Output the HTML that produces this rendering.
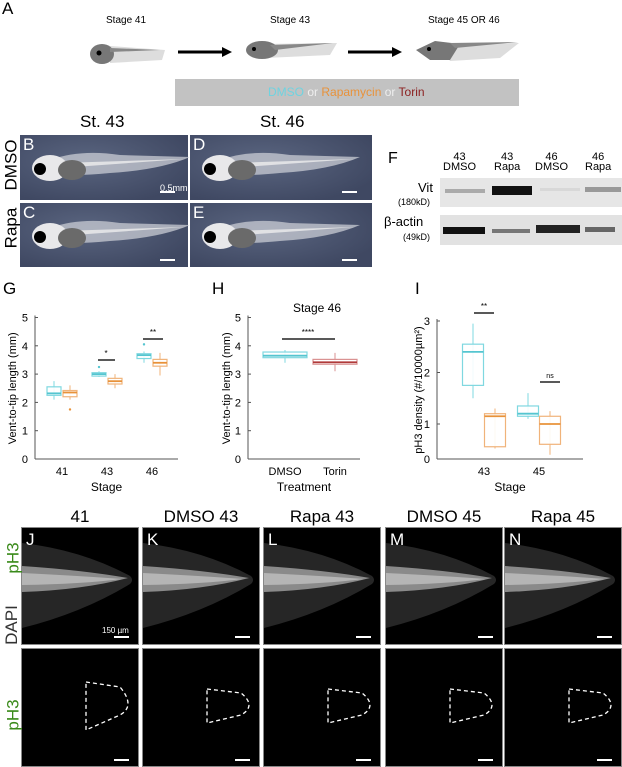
<!DOCTYPE html>
<html><head><meta charset="utf-8"><style>
body{margin:0;background:#fff;font-family:"Liberation Sans",sans-serif;}
#root{position:relative;width:622px;height:767px;overflow:hidden;}
.abs{position:absolute;}
.t{position:absolute;white-space:nowrap;}
.photo{position:absolute;background:radial-gradient(ellipse at 40% 40%,#5a6580,#3f4862 80%);}
.fl{position:absolute;background:#000;border:1px solid #888;box-sizing:border-box;overflow:hidden;}
.sb{position:absolute;height:2px;background:#fff;width:15px;}
</style></head><body><div id="root">

<div class="t" style="left:2px;top:-1px;font-size:17px">A</div>
<div class="t" style="left:106px;top:15px;font-size:10px">Stage 41</div>
<div class="t" style="left:270px;top:15px;font-size:10px">Stage 43</div>
<div class="t" style="left:428px;top:15px;font-size:10px">Stage 45 OR 46</div>
<svg class="abs" style="left:0;top:0" width="622" height="110">
 <g><path d="M110,46 L165,50 L162,60 L110,63 Z" fill="#ddd"/><ellipse cx="102" cy="54" rx="12" ry="10" fill="#777"/><path d="M110,48 L160,50 L110,52Z" fill="#888"/><circle cx="99" cy="53" r="2.5" fill="#000"/></g>
 <path d="M178,52 L225,52" stroke="#000" stroke-width="3"/><path d="M222,47 L232,52 L222,57Z" fill="#000"/>
 <g><path d="M262,44 L337,43 L330,55 L265,58 Z" fill="#ddd"/><ellipse cx="262" cy="50" rx="16" ry="9" fill="#777"/><path d="M270,45 L333,43 L275,50Z" fill="#888"/><circle cx="254" cy="49" r="2" fill="#000"/></g>
 <path d="M348,52 L395,52" stroke="#000" stroke-width="3"/><path d="M392,47 L402,52 L392,57Z" fill="#000"/>
 <g><path d="M440,44 L519,43 L500,58 L450,61 Z" fill="#ddd"/><path d="M416,50 L435,41 L460,44 L450,60 L430,60 Z" fill="#777"/><path d="M450,43 L518,42 L455,48Z" fill="#888"/><circle cx="429" cy="49" r="2" fill="#000"/></g>
 <rect x="175" y="79" width="344" height="27" fill="#c2c2c2"/>
</svg>
<div class="t" style="left:268px;top:85px;font-size:12px"><span style="color:#6fd3e0">DMSO</span> <span style="color:#eee">or</span> <span style="color:#e8923a">Rapamycin</span> <span style="color:#eee">or</span> <span style="color:#8b1e1e">Torin</span></div>

<div class="t" style="left:80px;top:112px;font-size:17px">St. 43</div>
<div class="t" style="left:260px;top:112px;font-size:17px">St. 46</div>
<div class="t" style="left:-14px;top:155px;font-size:17px;transform:rotate(-90deg)">DMSO</div>
<div class="t" style="left:-9px;top:218px;font-size:17px;transform:rotate(-90deg)">Rapa</div>
<div id="photos"></div>

<div class="t" style="left:388px;top:150px;font-size:16px">F</div>
<div class="t" style="left:443px;top:152px;font-size:11px;text-align:center;line-height:10px">43<br>DMSO</div>
<div class="t" style="left:494px;top:152px;font-size:11px;text-align:center;line-height:10px">43<br>Rapa</div>
<div class="t" style="left:535px;top:152px;font-size:11px;text-align:center;line-height:10px">46<br>DMSO</div>
<div class="t" style="left:585px;top:152px;font-size:11px;text-align:center;line-height:10px">46<br>Rapa</div>
<div class="t" style="left:418px;top:180px;font-size:13px">Vit</div>
<div class="t" style="left:398px;top:197px;font-size:9px">(180kD)</div>
<div class="t" style="left:384px;top:214px;font-size:13px">β-actin</div>
<div class="t" style="left:403px;top:232px;font-size:9px">(49kD)</div>
<svg class="abs" style="left:440px;top:178px" width="182" height="68">
 <rect x="0" y="0" width="182" height="29" fill="#e6e6e6"/><rect x="0" y="37" width="182" height="30" fill="#e2e2e2"/>
 <rect x="5" y="11" width="40" height="4" fill="#aaa"/><rect x="52" y="8" width="40" height="9" fill="#111"/><rect x="100" y="10" width="40" height="3" fill="#d8d8d8"/><rect x="145" y="9" width="36" height="5" fill="#999"/>
 <rect x="3" y="49" width="42" height="7" fill="#111"/><rect x="52" y="51" width="38" height="4" fill="#777"/><rect x="96" y="47" width="44" height="8" fill="#222"/><rect x="145" y="49" width="30" height="5" fill="#666"/>
</svg>

<div class="t" style="left:3px;top:279px;font-size:17px">G</div>
<div class="t" style="left:212px;top:279px;font-size:17px">H</div>
<div class="t" style="left:415px;top:279px;font-size:17px">I</div>
<svg id="charts" class="abs" style="left:0;top:0" width="622" height="500"></svg>

<div id="fluo"></div>
<div class="t" style="left:-2px;top:548px;font-size:17px;color:#3a8a1a;transform:rotate(-90deg)">pH3</div>
<div class="t" style="left:-8px;top:615px;font-size:17px;color:#333;transform:rotate(-90deg)">DAPI</div>
<div class="t" style="left:-2px;top:705px;font-size:17px;color:#3a8a1a;transform:rotate(-90deg)">pH3</div>

<script>
// ---- Panel G data ----
const gStages=["41","43","46"];
const gDmso=[[2.1,2.25,2.32,2.55,2.75],[2.9,2.93,3.0,3.05,3.1],[3.4,3.55,3.67,3.72,3.8]];
const gRapa=[[2.1,2.2,2.35,2.42,2.6],[2.5,2.65,2.75,2.85,3.0],[2.95,3.28,3.4,3.52,3.75]];
const gOutD=[null,3.25,4.05];
const gOutR=[1.75,null,null];
const gTicks=[0,1,2,3,4,5];
// ---- Panel H data ----
const hGroups=["DMSO","Torin"];
const hVals=[[3.4,3.58,3.65,3.78,3.85],[3.1,3.35,3.42,3.52,3.75]];
const hTicks=[0,1,2,3,4,5];
// ---- Panel I data ----
const iStages=["43","45"];
const iDmso=[[1.5,1.75,2.4,2.55,2.95],[1.1,1.15,1.2,1.35,1.6]];
const iRapa=[[0.3,0.35,1.15,1.2,1.3],[0.12,0.42,1.0,1.15,1.25]];
const iTicks=[0,1,2,3];

const NS="http://www.w3.org/2000/svg";
const svg=document.getElementById('charts');
function el(tag,attrs,parent){const e=document.createElementNS(NS,tag);for(const k in attrs)e.setAttribute(k,attrs[k]);(parent||svg).appendChild(e);return e;}
function txt(x,y,s,size,anchor,rot){const e=el('text',{x:x,y:y,'font-size':size,'text-anchor':anchor||'middle','font-family':'Liberation Sans, sans-serif'});if(rot)e.setAttribute('transform','rotate(-90 '+x+' '+y+')');e.textContent=s;return e;}
function box(cx,w,v,col,med,yf){
 const g=el('g',{});
 
 
 el('line',{x1:cx,x2:cx,y1:yf(v[0]),y2:yf(v[4]),stroke:col,'stroke-width':1},g);
 el('rect',{x:cx-w/2,y:yf(v[3]),width:w,height:yf(v[1])-yf(v[3]),fill:'#fff',stroke:col,'stroke-width':1.2,'fill-opacity':0.9},g);
 el('line',{x1:cx-w/2,x2:cx+w/2,y1:yf(v[2]),y2:yf(v[2]),stroke:med,'stroke-width':1.8},g);
}
function axes(x0,x1,yf,ticks,ylab,xlab,ylx){
 el('line',{x1:x0,x2:x0,y1:yf(ticks[0]),y2:yf(ticks[ticks.length-1])-2,stroke:'#555'});
 el('line',{x1:x0,x2:x1,y1:yf(ticks[0]),y2:yf(ticks[0]),stroke:'#555'});
 ticks.forEach(t=>{el('line',{x1:x0,x2:x0+3,y1:yf(t),y2:yf(t),stroke:'#555'});const e=txt(x0-7,yf(t)+4,String(t),11,'end');});
 const yl=txt(ylx,(yf(ticks[0])+yf(ticks[ticks.length-1]))/2,ylab,11,'middle',true);
 
 
 const xl=txt((x0+x1)/2,491,xlab,12);
 
 
}
const CY='#7fd8e0',CYM='#55c5d0',OR='#f0b37a',ORM='#e8923a';
const TY=475;
// G
const gy=v=>459-v*28.3;
const gx=i=>62+i*45;
axes(35,178,gy,gTicks,'Vent-to-tip length (mm)','Stage',16);
gStages.forEach((s,i)=>{
 box(gx(i)-8,14,gDmso[i],CY,CYM,gy);box(gx(i)+8,14,gRapa[i],OR,ORM,gy);
 const l=txt(gx(i),TY,s,11);
 if(gOutD[i]!=null)el('circle',{cx:gx(i)-8,cy:gy(gOutD[i]),r:1.2,fill:CYM});
 if(gOutR[i]!=null)el('circle',{cx:gx(i)+8,cy:gy(gOutR[i]),r:1.2,fill:ORM});
});
el('line',{x1:98,x2:115,y1:360,y2:360,stroke:'#222','stroke-width':1.5});txt(106,356,'*',8);
el('line',{x1:143,x2:163,y1:339,y2:339,stroke:'#222','stroke-width':1.5});txt(153,335,'**',8);
// H
const hy=v=>459-v*28.3;
const hx=i=>285+i*50;
axes(248,360,hy,hTicks,'Vent-to-tip length (mm)','Treatment',230);
txt(317,312,'Stage 46',12);
const hc=[[CY,CYM],['#d99090','#b03a3a']];
hGroups.forEach((s,i)=>{box(hx(i),44,hVals[i],hc[i][0],hc[i][1],hy);const l=txt(hx(i),TY,s,11);});
el('line',{x1:282,x2:335,y1:339,y2:339,stroke:'#222','stroke-width':1.5});txt(308,335,'****',8);
// I
const iy=v=>v<=1?459-v*35:424-(v-1)*51.5;
const ix=i=>484+i*55;
axes(437,583,iy,iTicks,'pH3 density (#/10000µm²)','Stage',422);
iStages.forEach((s,i)=>{box(ix(i)-11,21,iDmso[i],CY,CYM,iy);box(ix(i)+11,21,iRapa[i],OR,ORM,iy);const l=txt(ix(i),TY,s,11);});
el('line',{x1:474,x2:494,y1:313,y2:313,stroke:'#222','stroke-width':1.5});txt(484,309,'**',8);
el('line',{x1:540,x2:560,y1:382,y2:382,stroke:'#222','stroke-width':1.5});txt(550,378,'ns',7);

// photos B-E
const ph=document.getElementById('photos');
const photoSpec=[["B",20,135],["D",190,135],["C",20,203],["E",190,203]];
photoSpec.forEach(p=>{
 const d=document.createElement('div');d.className='photo';
 d.style.cssText=`left:${p[1]}px;top:${p[2]}px;width:${p[1]==20?168:182}px;height:${p[2]==135?65:64}px`;
 
 
 d.innerHTML=`<svg width="182" height="65" style="position:absolute;left:0;top:0"><path d="M30,25 Q60,14 100,20 L170,22 Q140,35 90,38 Q50,42 30,38 Z" fill="#c9ccd4" opacity="0.75"/><path d="M40,28 L165,24 L40,33Z" fill="#eee" opacity="0.8"/><ellipse cx="30" cy="33" rx="18" ry="13" fill="#e8e8ea"/><ellipse cx="52" cy="35" rx="14" ry="10" fill="#6a6a6a"/><circle cx="20" cy="34" r="6" fill="#000"/></svg><div style="position:absolute;left:3px;top:0;color:#fff;font-size:17px">${p[0]}</div>`;
 ph.appendChild(d);
 const sb=document.createElement('div');sb.className='sb';sb.style.left=(p[1]+(p[1]==20?140:152))+'px';sb.style.top=(p[2]+56)+'px';
 
 
 ph.appendChild(sb);
});
const sbt=document.createElement('div');sbt.className='t';sbt.style.cssText='left:160px;top:183px;color:#fff;font-size:9px';sbt.textContent='0.5mm';


ph.appendChild(sbt);

// J-N
const fl=document.getElementById('fluo');
const cols=[["J","41",21],["K","DMSO 43",142],["L","Rapa 43",263],["M","DMSO 45",385],["N","Rapa 45",504]];
cols.forEach((c,i)=>{
 const h=document.createElement('div');h.className='t';h.style.cssText=`left:${c[2]}px;width:118px;text-align:center;top:507px;font-size:17px`;h.textContent=c[1];
 
 
 fl.appendChild(h);
 const top=document.createElement('div');top.className='fl';top.style.cssText=`left:${c[2]}px;top:527px;width:118px;height:118px`;
 
 
 top.innerHTML=`<svg width="118" height="118" style="position:absolute;left:0;top:0"><path d="M0,15 Q60,22 108,48 Q112,52 108,56 Q60,85 0,100Z" fill="#262626"/><path d="M0,38 Q60,42 106,50 Q60,62 0,64Z" fill="#8a8a8a"/><path d="M0,45 Q60,48 100,51 Q60,56 0,57Z" fill="#b5b5b5"/></svg><div style="position:absolute;left:4px;top:2px;color:#fff;font-size:17px">${c[0]}</div><div class="sb" style="left:92px;top:108px"></div>`;
 fl.appendChild(top);
 const bot=document.createElement('div');bot.className='fl';bot.style.cssText=`left:${c[2]}px;top:648px;width:118px;height:119px`;
 
 
 bot.innerHTML=`<svg width="118" height="119" style="position:absolute;left:0;top:0"><path d="M64,${i==0?33:40} L98,${i==0?38:44} Q114,57 98,66 L64,${i==0?81:74}Z" fill="none" stroke="#fff" stroke-width="1.3" stroke-dasharray="4,3"/></svg><div class="sb" style="left:92px;top:110px"></div>`;
 fl.appendChild(bot);
});
const fst=document.createElement('div');fst.className='t';fst.style.cssText='left:102px;top:626px;color:#fff;font-size:8px';fst.textContent='150 µm';


fl.appendChild(fst);
</script>
</div></body></html>
